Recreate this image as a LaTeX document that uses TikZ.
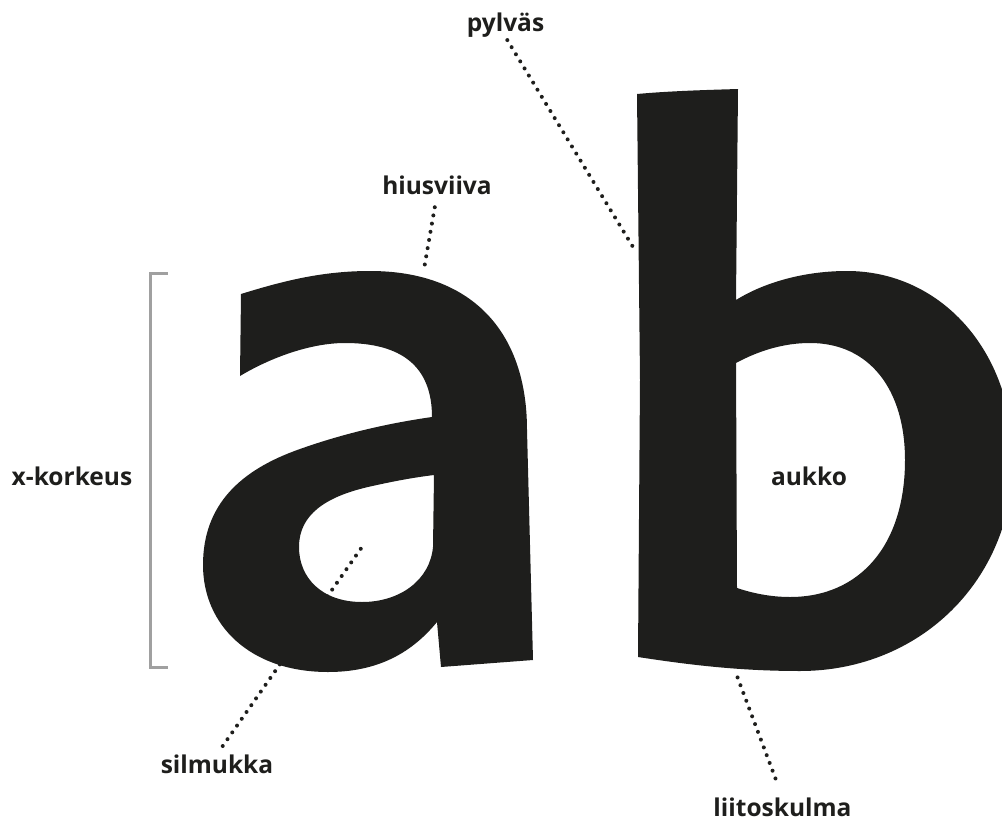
\documentclass[tikz,border=0pt]{standalone}
\usepackage{fontspec}
\setmainfont{Open Sans}
\usepackage{xcolor}

\definecolor{inkblack}{RGB}{30,30,28}
\definecolor{bracketgray}{RGB}{160,160,160}

\begin{document}
\begin{tikzpicture}[x=1pt,y=1pt,yscale=-1,
  partlabel/.style={anchor=base,inner sep=0pt,text=inkblack,font=\fontsize{24.5}{28}\selectfont\bfseries},
  dotline/.style={inkblack,line width=4pt,line cap=round,dash pattern=on 0pt off 8.3pt}]

\useasboundingbox (0,0) rectangle (1002,822);

% letter a
\fill[inkblack,even odd rule] (241,294) .. controls (280,282) and (320,271) .. (370,271) .. controls (470,271) and (527,330) .. (527,430) -- (533,660) -- (441,667) -- (437,622) .. controls (410,655) and (375,672) .. (328,672) .. controls (250,672) and (203,625) .. (203,565) .. controls (203,505) and (240,470) .. (300,449) .. controls (345,433) and (390,423) .. (432,417) .. controls (432,365) and (400,343) .. (345,343) .. controls (310,343) and (270,358) .. (240,376) -- cycle
  (434,475) -- (433,547) .. controls (430,580) and (400,602) .. (362,602) .. controls (322,602) and (299,578) .. (299,547) .. controls (299,515) and (325,497) .. (368,487) .. controls (390,482) and (410,478) .. (434,475) -- cycle;

% letter b
\fill[inkblack,even odd rule] (637,94) .. controls (670,91) and (705,90) .. (738,89) -- (736,300) .. controls (765,282) and (805,271) .. (847,271) .. controls (940,271) and (1013,350) .. (1013,460) .. controls (1013,580) and (920,671) .. (800,671) .. controls (740,671) and (690,665) .. (638,657) -- (640,380) -- cycle
  (736,363) .. controls (760,350) and (785,343) .. (810,343) .. controls (870,343) and (905,390) .. (905,460) .. controls (905,545) and (860,597) .. (790,597) .. controls (770,597) and (752,593) .. (737,588) -- cycle;

% x-height bracket
\draw[bracketgray,line width=3.5pt] (168,273.5) -- (150.5,273.5) -- (150.5,667.5) -- (168,667.5);

% labels
\node[partlabel] (pylvas) at (505.5,31) {pylväs};
\node[partlabel] (hiusviiva) at (437,194) {hiusviiva};
\node[partlabel] (xkorkeus) at (72,485) {x-korkeus};
\node[partlabel] (aukko) at (809,485) {aukko};
\node[partlabel] (silmukka) at (217,773) {silmukka};
\node[partlabel] (liitoskulma) at (782.5,816) {liitoskulma};

% pointers
\coordinate (pylvas-pt) at (633,247);
\coordinate (hiusviiva-pt) at (424,269);
\coordinate (silmukka-pt) at (362,547);
\coordinate (liitoskulma-pt) at (737,676);

\draw[dotline,shorten <=3.5pt] (pylvas.south) -- (pylvas-pt);
\draw[dotline,shorten <=13pt] (hiusviiva.south) -- (hiusviiva-pt);
\draw[dotline,shorten <=10pt] (silmukka.north) -- (silmukka-pt);
\draw[dotline,shorten <=20pt] (liitoskulma.north) -- (liitoskulma-pt);
\end{tikzpicture}
\end{document}
